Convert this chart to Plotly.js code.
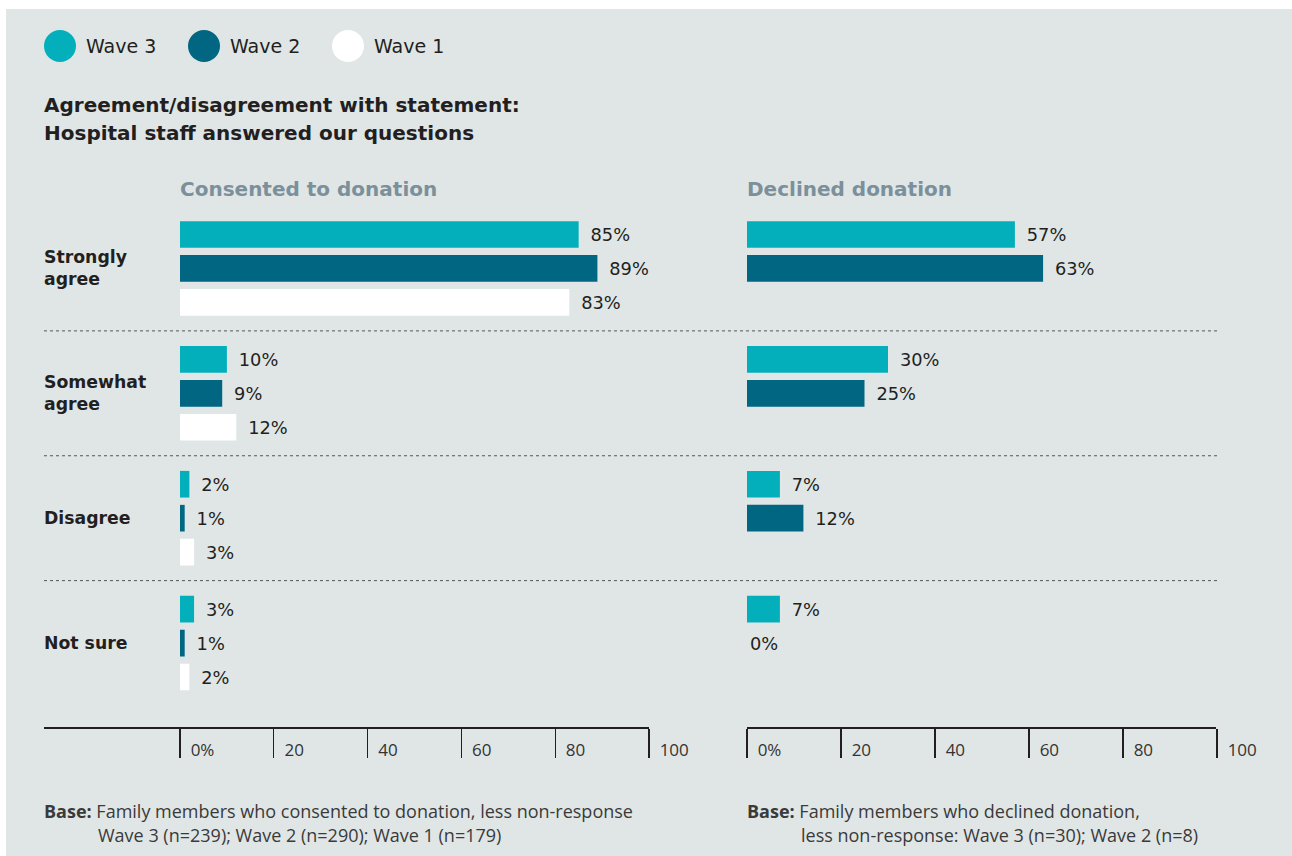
<!DOCTYPE html>
<html>
<head>
<meta charset="utf-8">
<script src="https://cdn.plot.ly/plotly-3.0.1.min.js"></script>
<style>
  html, body { margin: 0; padding: 0; background: #ffffff; }
  #chart { width: 1292px; height: 856px; }
</style>
</head>
<body>
<div id="chart"></div>
<script>
// ---- data ----
const categories = ["Strongly agree", "Somewhat agree", "Disagree", "Not sure"];
const categoryLabels = ["Strongly<br>agree", "Somewhat<br>agree", "Disagree", "Not sure"];
const waves = ["Wave 3", "Wave 2", "Wave 1"];
const consentedWave3 = [85, 10, 2, 3];
const consentedWave2 = [89, 9, 1, 1];
const consentedWave1 = [83, 12, 3, 2];
const declinedWave3 = [57, 30, 7, 7];
const declinedWave2 = [63, 25, 12, 0];
const declinedWave1 = [null, null, null, null];
const tickVals = [0, 20, 40, 60, 80, 100];
const tickText = ["0%", "20", "40", "60", "80", "100"];
const panelTitles = ["Consented to donation", "Declined donation"];
const chartTitleLines = ["Agreement/disagreement with statement:", "Hospital staff answered our questions"];
const baseLeftLines = ["<b>Base:</b> Family members who consented to donation, less non-response",
                       "Wave 3 (n=239); Wave 2 (n=290); Wave 1 (n=179)"];
const baseRightLines = ["<b>Base:</b> Family members who declined donation,",
                        "less non-response: Wave 3 (n=30); Wave 2 (n=8)"];

// ---- style ----
const colors = ["#02afbb", "#006682", "#ffffff"];
const bg = "#e0e6e6";
const dark = "#231f20";
const sans = "'DejaVu Sans', sans-serif";
const open = "'Open Sans', sans-serif";
const W = 1292, H = 856;
const px = v => v / W;
const py = v => (H - v) / H;

function labels(vals) {
  return vals.map(v => v === null ? "" : (v === 0 ? v + "%" : "\u2002" + v + "%"));
}

function barTrace(vals, i, xa, ya) {
  return {
    type: "bar", orientation: "h",
    x: vals, y: categories,
    xaxis: xa, yaxis: ya,
    name: waves[i],
    marker: { color: colors[i], line: { width: 0 } },
    text: labels(vals),
    texttemplate: "%{text}",
    textposition: "outside",
    constraintext: "none",
    cliponaxis: false,
    textfont: { family: sans, size: 17.8, color: dark },
    hoverinfo: "skip",
    showlegend: false
  };
}

const data = [
  barTrace(consentedWave3, 0, "x", "y"),
  barTrace(consentedWave2, 1, "x", "y"),
  barTrace(consentedWave1, 2, "x", "y"),
  barTrace(declinedWave3, 0, "x2", "y2"),
  barTrace(declinedWave2, 1, "x2", "y2"),
  barTrace(declinedWave1, 2, "x2", "y2")
];

const yDomain = [py(705.5), py(206)];
const axisPos = py(728);

function xAxis(domain) {
  return {
    domain: domain, range: [0, 100], fixedrange: true,
    anchor: "free", position: axisPos, side: "bottom",
    showgrid: false, zeroline: false, showline: false,
    tickmode: "array", tickvals: tickVals, ticktext: tickText,
    ticks: "outside", ticklen: 29, tickwidth: 1.3, tickcolor: dark,
    ticklabelposition: "outside right",
    ticklabelshift: 10,
    ticklabelstandoff: 7,
    tickfont: { family: open, size: 17, color: "#333333" }
  };
}
function yAxis(extra) {
  return Object.assign({
    domain: yDomain, type: "category", categoryorder: "array", categoryarray: categories,
    range: [3.5, -0.5], fixedrange: true,
    showgrid: false, zeroline: false, showline: false, showticklabels: false, ticks: ""
  }, extra);
}

const shapes = [
  { type: "rect", xref: "paper", yref: "paper", x0: px(6), x1: 1, y0: 0, y1: py(9),
    fillcolor: bg, line: { width: 0 }, layer: "below" },
  { type: "line", xref: "paper", yref: "paper", x0: px(44), x1: px(649), y0: axisPos, y1: axisPos,
    line: { color: dark, width: 2 } },
  { type: "line", xref: "paper", yref: "paper", x0: px(747), x1: px(1216), y0: axisPos, y1: axisPos,
    line: { color: dark, width: 2 } }
];
for (let k = 0; k < categories.length - 1; k++) {
  shapes.push({ type: "line", xref: "paper", yref: "y", x0: px(44), x1: px(1217), y0: k + 0.5, y1: k + 0.5,
    line: { color: "#555555", width: 1, dash: "dot" } });
}
const legendX = [60, 204, 348];
waves.forEach((w, i) => {
  shapes.push({ type: "circle", xref: "paper", yref: "paper",
    x0: px(legendX[i] - 16), x1: px(legendX[i] + 16), y0: py(62), y1: py(30),
    fillcolor: colors[i], line: { width: 0 } });
});

const annotations = [];
function note(x, y, text, font, extra) {
  annotations.push(Object.assign({ xref: "paper", yref: "paper", x: px(x), y: py(y),
    xanchor: "left", yanchor: "middle", align: "left", showarrow: false, text: text, font: font }, extra || {}));
}
waves.forEach((w, i) => note(legendX[i] + 24, 46, w, { family: sans, size: 19, color: dark }));
chartTitleLines.forEach((t, i) => note(42, 105 + 28 * i, "<b>" + t + "</b>", { family: sans, size: 20, color: dark }));
note(178, 189, "<b>" + panelTitles[0] + "</b>", { family: sans, size: 20, color: "#7b909b" });
note(745, 189, "<b>" + panelTitles[1] + "</b>", { family: sans, size: 20, color: "#7b909b" });
categoryLabels.forEach((c, k) => {
  annotations.push({ xref: "paper", yref: "y", x: px(42), y: categories[k], xanchor: "left", yanchor: "middle",
    align: "left", showarrow: false, text: "<b>" + c.replace("<br>", "</b><br><b>") + "</b>",
    font: { family: sans, size: 17.3, color: dark } });
});
const baseFont = { family: open, size: 18, color: "#3a3a3a" };
note(42, 811, baseLeftLines[0], baseFont);
note(96, 835, baseLeftLines[1], baseFont);
note(745, 811, baseRightLines[0], baseFont);
note(799, 835, baseRightLines[1], baseFont);

const layout = {
  width: W, height: H,
  margin: { l: 0, r: 0, t: 0, b: 0 },
  paper_bgcolor: "#ffffff",
  plot_bgcolor: "rgba(0,0,0,0)",
  barmode: "group",
  bargap: 0.184,
  bargroupgap: 0.215,
  showlegend: false,
  xaxis: xAxis([px(180), px(649)]),
  xaxis2: xAxis([px(747), px(1217)]),
  yaxis: yAxis({ anchor: "x" }),
  yaxis2: yAxis({ anchor: "x2", matches: "y" }),
  shapes: shapes,
  annotations: annotations,
  font: { family: sans, color: dark }
};

Plotly.newPlot("chart", data, layout, { displayModeBar: false, staticPlot: true });
</script>
</body>
</html>
